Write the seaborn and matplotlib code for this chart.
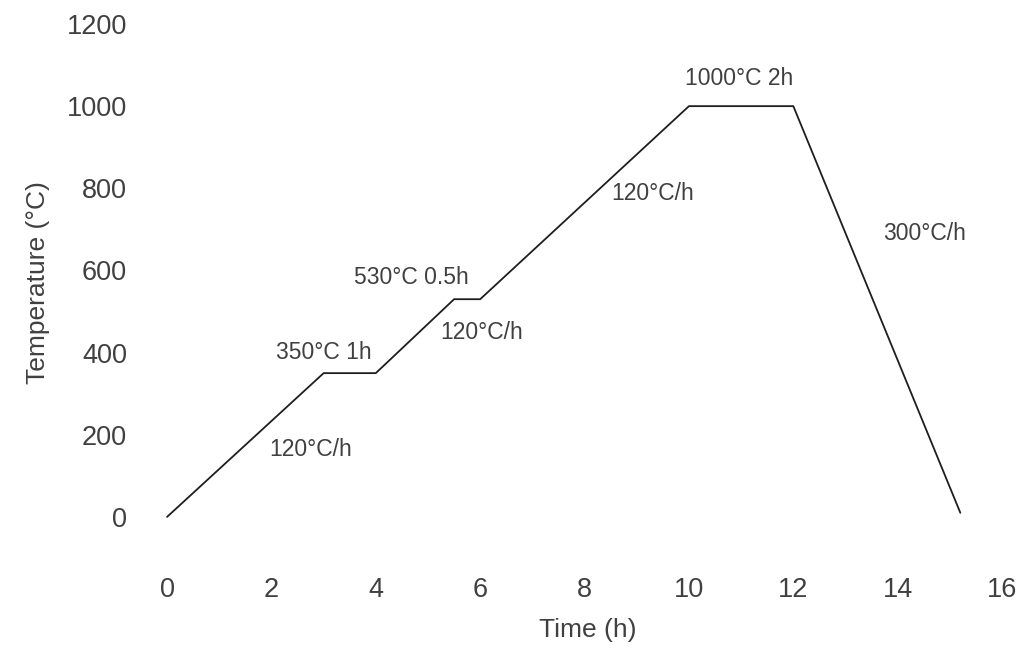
import matplotlib
matplotlib.use("Agg")
import matplotlib.pyplot as plt
import seaborn as sns
import pandas as pd

# Heat-treatment schedule: time (h) vs furnace temperature (°C)
time_h = [0, 3, 4, 5.5, 6, 10, 12, 15.2]
temp_c = [0, 350, 350, 530, 530, 1000, 1000, 10]

x_ticks = [0, 2, 4, 6, 8, 10, 12, 14, 16]
y_ticks = [0, 200, 400, 600, 800, 1000, 1200]

# Segment annotations: (text, time, temperature)
notes = [
    ("120°C/h", 2.76, 163),
    ("350°C 1h", 3.0, 401),
    ("530°C 0.5h", 4.69, 584),
    ("120°C/h", 6.03, 450),
    ("120°C/h", 9.31, 788),
    ("1000°C 2h", 10.96, 1068),
    ("300°C/h", 14.52, 691),
]

sns.set_theme(style="white")
plt.rcParams["font.family"] = ["Liberation Sans", "DejaVu Sans"]

df = pd.DataFrame({"Time (h)": time_h, "Temperature": temp_c})

fig = plt.figure(figsize=(10.35, 6.59), dpi=100)
ax = fig.add_axes([0.1362, 0.1533, 0.832, 0.8103])

sns.lineplot(data=df, x="Time (h)", y="Temperature", sort=False,
             color="#1e1e1e", linewidth=1.3, ax=ax)

ax.set_xlim(-0.5, 16)
ax.set_ylim(-100, 1200)
ax.set_xticks(x_ticks)
ax.set_yticks(y_ticks)
ax.tick_params(axis="both", length=0, labelsize=19.5, colors="#404040")
ax.tick_params(axis="y", pad=10)
ax.tick_params(axis="x", pad=14)
sns.despine(ax=ax, left=True, bottom=True, top=True, right=True)

ax.set_xlabel("Time (h)", fontsize=19, color="#404040")
ax.set_ylabel("Temperature (°C)", fontsize=19, color="#404040")
ax.xaxis.set_label_coords(0.519, -0.112)
ax.yaxis.set_label_coords(-0.106, 0.515)

for text, t, temp in notes:
    ax.text(t, temp, text, ha="center", va="center", fontsize=16.5,
            color="#404040")

fig.savefig("out.png", dpi=100, facecolor="white")
